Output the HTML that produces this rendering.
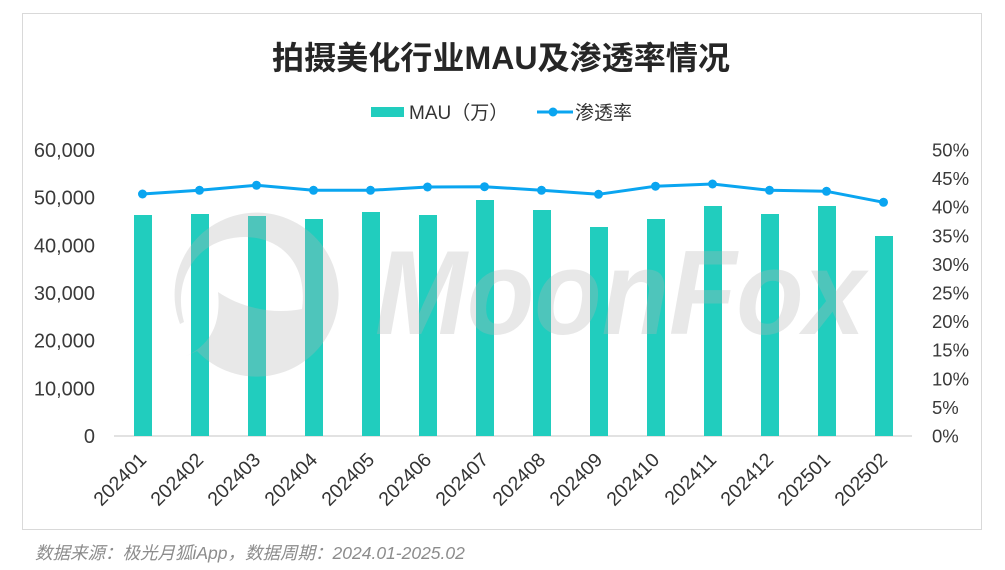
<!DOCTYPE html>
<html><head><meta charset="utf-8"><style>
html,body{margin:0;padding:0;background:#fff;}
svg{display:block;}
text{font-family:"Liberation Sans","Noto Sans CJK SC",sans-serif;}
</style></head><body>
<svg width="1005" height="570" viewBox="0 0 1005 570" xmlns="http://www.w3.org/2000/svg">
<rect x="0" y="0" width="1005" height="570" fill="#fff"/>
<rect x="22.5" y="13.5" width="959" height="516" fill="none" stroke="#d9d9d9" stroke-width="1"/>
<text x="501" y="69" text-anchor="middle" font-size="32" font-weight="bold" fill="#262626" textLength="458" lengthAdjust="spacingAndGlyphs">拍摄美化行业MAU及渗透率情况</text>
<rect x="371" y="107" width="33" height="10" fill="#21cdbe"/>
<text x="409" y="119" font-size="19" fill="#333">MAU（万）</text>
<line x1="537" y1="112" x2="573" y2="112" stroke="#0aa5f0" stroke-width="3"/>
<circle cx="553" cy="112" r="4.5" fill="#0aa5f0"/>
<text x="575" y="119" font-size="19" fill="#333">渗透率</text>
<g font-size="20" fill="#3a3a3a" text-anchor="end">
<text x="95" y="443">0</text>
<text x="95" y="395.3">10,000</text>
<text x="95" y="347.7">20,000</text>
<text x="95" y="300">30,000</text>
<text x="95" y="252.3">40,000</text>
<text x="95" y="204.7">50,000</text>
<text x="95" y="157">60,000</text>
</g>
<g font-size="18.5" fill="#3a3a3a">
<text x="932" y="442.5">0%</text>
<text x="932" y="413.9">5%</text>
<text x="932" y="385.3">10%</text>
<text x="932" y="356.7">15%</text>
<text x="932" y="328.1">20%</text>
<text x="932" y="299.5">25%</text>
<text x="932" y="270.9">30%</text>
<text x="932" y="242.3">35%</text>
<text x="932" y="213.7">40%</text>
<text x="932" y="185.1">45%</text>
<text x="932" y="156.5">50%</text>
</g>
<line x1="114" y1="436" x2="912" y2="436" stroke="#d9d9d9" stroke-width="1.5"/>
<g fill="#21cdbe">
<rect x="134" y="215" width="18" height="221"/>
<rect x="191" y="214" width="18" height="222"/>
<rect x="248" y="216" width="18" height="220"/>
<rect x="305" y="219" width="18" height="217"/>
<rect x="362" y="212" width="18" height="224"/>
<rect x="419" y="215" width="18" height="221"/>
<rect x="476" y="200" width="18" height="236"/>
<rect x="533" y="210" width="18" height="226"/>
<rect x="590" y="227" width="18" height="209"/>
<rect x="647" y="219" width="18" height="217"/>
<rect x="704" y="206" width="18" height="230"/>
<rect x="761" y="214" width="18" height="222"/>
<rect x="818" y="206" width="18" height="230"/>
<rect x="875" y="236" width="18" height="200"/>
</g>
<g fill="rgb(181,181,181)" fill-opacity="0.31">
<path d="M180,324 A82,82 0 1 1 197,351 L184,357 C205,348 222,330 218,292 C240,307 272,315 302,309 C308,265 282,237 244,237 C196,238 172,280 184,322 Z"/>
<text x="375" y="334" font-size="120" font-weight="bold" font-style="italic" textLength="490" lengthAdjust="spacingAndGlyphs">MoonFox</text>
</g>
<polyline fill="none" stroke="#0aa5f0" stroke-width="3" stroke-linejoin="round" points="142.5,194 199.5,190.3 256.5,185.3 313.5,190.3 370.5,190.3 427.5,187 484.5,186.7 541.5,190.3 598.5,194.3 655.5,186.2 712.5,184 769.5,190.3 826.5,191.3 883.5,202.3"/>
<g fill="#0aa5f0">
<circle cx="142.5" cy="194" r="4.5"/>
<circle cx="199.5" cy="190.3" r="4.5"/>
<circle cx="256.5" cy="185.3" r="4.5"/>
<circle cx="313.5" cy="190.3" r="4.5"/>
<circle cx="370.5" cy="190.3" r="4.5"/>
<circle cx="427.5" cy="187" r="4.5"/>
<circle cx="484.5" cy="186.7" r="4.5"/>
<circle cx="541.5" cy="190.3" r="4.5"/>
<circle cx="598.5" cy="194.3" r="4.5"/>
<circle cx="655.5" cy="186.2" r="4.5"/>
<circle cx="712.5" cy="184" r="4.5"/>
<circle cx="769.5" cy="190.3" r="4.5"/>
<circle cx="826.5" cy="191.3" r="4.5"/>
<circle cx="883.5" cy="202.3" r="4.5"/>
</g>
<g font-size="19.5" fill="#333" text-anchor="end">
<text x="147.5" y="461" transform="rotate(-45 147.5 461)">202401</text>
<text x="204.5" y="461" transform="rotate(-45 204.5 461)">202402</text>
<text x="261.5" y="461" transform="rotate(-45 261.5 461)">202403</text>
<text x="318.5" y="461" transform="rotate(-45 318.5 461)">202404</text>
<text x="375.5" y="461" transform="rotate(-45 375.5 461)">202405</text>
<text x="432.5" y="461" transform="rotate(-45 432.5 461)">202406</text>
<text x="489.5" y="461" transform="rotate(-45 489.5 461)">202407</text>
<text x="546.5" y="461" transform="rotate(-45 546.5 461)">202408</text>
<text x="603.5" y="461" transform="rotate(-45 603.5 461)">202409</text>
<text x="660.5" y="461" transform="rotate(-45 660.5 461)">202410</text>
<text x="717.5" y="461" transform="rotate(-45 717.5 461)">202411</text>
<text x="774.5" y="461" transform="rotate(-45 774.5 461)">202412</text>
<text x="831.5" y="461" transform="rotate(-45 831.5 461)">202501</text>
<text x="888.5" y="461" transform="rotate(-45 888.5 461)">202502</text>
</g>
<text x="35" y="559" font-size="17.5" font-style="italic" fill="#8c8c8c">数据来源：极光月狐iApp，数据周期：2024.01-2025.02</text>
</svg>
</body></html>
